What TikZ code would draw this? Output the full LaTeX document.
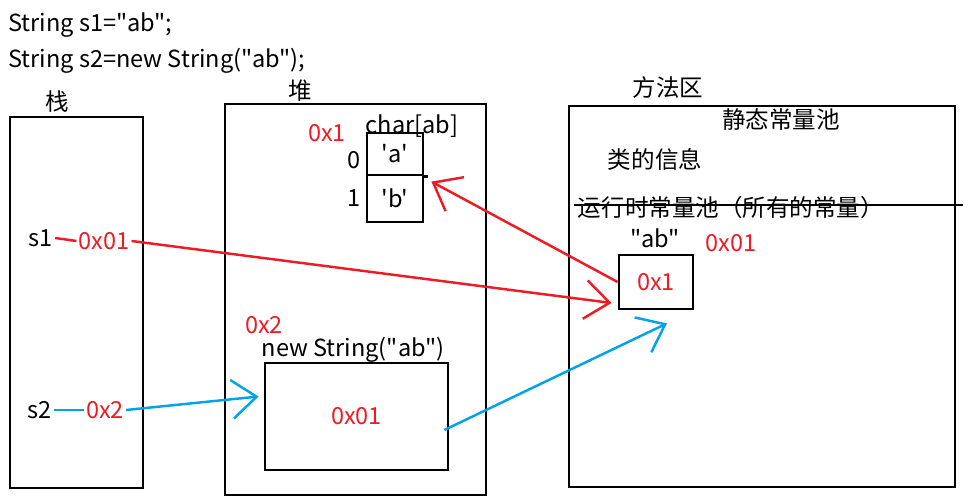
\documentclass[tikz,border=0pt]{standalone}
\usepackage{fontspec}
\newfontfamily\yahei{Noto Sans CJK SC}
\usetikzlibrary{arrows.meta, positioning}

\definecolor{memred}{RGB}{237,28,36}
\definecolor{memblue}{RGB}{0,162,232}

\tikzset{
  region/.style={draw, line width=1.6pt, inner sep=0pt},
  addr/.style={text=memred, inner sep=1pt},
  lbl/.style={inner sep=1pt},
  ref/.style={line width=1.4pt, -{Straight Barb[length=14pt,width=22pt,line width=1.4pt]}},
}

\begin{document}
\begin{tikzpicture}[x=0.02cm, y=-0.02cm, font=\yahei\fontsize{13.4}{15}\selectfont]
\useasboundingbox (0,0) rectangle (965,503);

% code
\node[anchor=base west, inner sep=0pt] (code1) at (8,32) {String s1="ab";};
\node[anchor=base west, inner sep=0pt] (code2) at (8,68) {String s2=new String("ab");};

% the three memory areas
\node[region, minimum width=2.66cm, minimum height=7.42cm] (stack)  at (76.5,302.5) {};
\node[region, minimum width=5.22cm, minimum height=7.82cm] (heap)   at (355.5,299.5) {};
\node[region, minimum width=7.72cm, minimum height=7.62cm] (method) at (762,296.5) {};
\node[lbl] (stacktitle)  at (57,102) {栈};
\node[lbl] (heaptitle)   at (300,91) {堆};
\node[lbl] (methodtitle) at (668,88) {方法区};

% method area
\node[lbl] (static) at (781,120) {静态常量池};
\node[lbl] (classinfo) at (655,159) {类的信息};
\draw[line width=1.6pt] (574,205) -- (963,205);
\node[lbl] (runtime) at (731,208) {运行时常量池（所有的常量）};
\node[lbl] (strlit) at (655,238) {"ab"};
\node[addr] (straddr) at (731,243) {0x01};
\node[region, minimum width=1.48cm, minimum height=1.08cm, text=memred] (strbox) at (656,282) {0x1};

% heap: char array
\node[addr] (arraddr) at (327,133) {0x1};
\node[region, minimum width=1.12cm, minimum height=0.84cm] (cella) at (395,154) {'a'};
\node[region, minimum width=1.12cm, minimum height=0.94cm] (cellb) at (395,198.5) {'b'};
\draw[line width=1.6pt] (cella.south east) -- ++(4,0);
\node[lbl] (arrtitle) at (412,126) {char[ab]};
\node[lbl] (idx0) at (354,160) {0};
\node[lbl] (idx1) at (354,198) {1};

% heap: String object
\node[addr] (objaddr) at (264,325) {0x2};
\node[lbl] (objtitle) at (353,350) {new String("ab")};
\node[region, minimum width=3.66cm, minimum height=2.14cm, text=memred] (objbox) at (356.5,416.5) {0x01};

% stack
\node[lbl] (s1) at (41,238) {s1};
\node[addr] (s1addr) at (104,241) {0x01};
\node[lbl] (s2) at (40,410) {s2};
\node[addr] (s2addr) at (105,410) {0x2};

% references
\draw[memred, line width=1.4pt] (s1.east) -- (s1addr.west);
\draw[ref, memred] (s1addr.east) -- ([shift={(-0.12cm,-0.42cm)}]strbox.west);
\draw[ref, memred] (strbox.west) -- ([shift={(0.14cm,-0.16cm)}]cellb.north east);
\draw[memblue, line width=1.4pt] (s2.east) -- (s2addr.west);
\draw[ref, memblue] (s2addr.east) -- ([shift={(-0.1cm,0.4cm)}]objbox.west);
\draw[ref, memblue] ([shift={(-0.1cm,-0.27cm)}]objbox.east) -- ([shift={(0.22cm,-0.26cm)}]strbox.south);
\end{tikzpicture}
\end{document}
